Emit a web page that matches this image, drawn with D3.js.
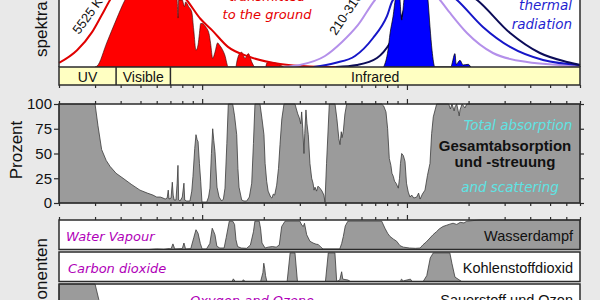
<!DOCTYPE html>
<html>
<head>
<meta charset="utf-8">
<script src="https://cdn.jsdelivr.net/npm/d3@7"></script>
<style>
  body { margin: 0; background: #e9e9e9; }
  svg { display: block; font-family: "Liberation Sans", Arial, sans-serif; }
  .it { font-family: "DejaVu Sans", Verdana, sans-serif; font-style: italic; }
</style>
</head>
<body>
<svg id="chart"></svg>
<script>
// wavelength axis, µm (log)
const xDomain = [0.2, 70];
const xTickValues = [0.2, 0.3, 0.4, 0.5, 0.6, 0.7, 0.8, 0.9, 1, 2, 3, 4, 5, 6, 7, 8, 9, 10, 20, 30, 40, 50, 60, 70];
const xMajor = [1, 10];

const bandNames = ["UV", "Visible", "Infrared"];
const bandEdges = [0.2, 0.38, 0.7, 70];

const absTicks = [0, 25, 50, 75, 100];

// top panel, spectral intensity (relative units) [µm, value]
const sun5525K = [[0.2, 0.06], [0.245, 0.25], [0.29, 0.52], [0.324, 0.78], [0.355, 1.0], [0.42, 1.3], [0.52, 1.45],
  [0.62, 1.38], [0.72, 1.2], [0.84, 1.0], [0.98, 0.72], [1.117, 0.55], [1.337, 0.3], [1.71, 0.15], [2.4, 0.045],
  [3.36, 0.008], [4.7, 0]];

const sunAtGround = [[0.3, 0], [0.307, 0.015], [0.343, 0.37], [0.38, 0.7], [0.42, 1.0], [0.5, 1.3], [0.6, 1.28],
  [0.68, 1.15], [0.745, 1.05], [0.755, 1.0], [0.762, 0.73], [0.768, 1.0], [0.8, 1.0], [0.81, 0.95], [0.82, 0.9],
  [0.83, 0.97], [0.86, 0.9], [0.89, 0.82], [0.91, 0.55], [0.933, 0.25], [0.955, 0.33], [0.97, 0.5], [0.984, 0.65],
  [1.0, 0.65], [1.04, 0.6], [1.08, 0.5], [1.1, 0.35], [1.126, 0.13], [1.155, 0.22], [1.19, 0.36], [1.22, 0.32],
  [1.246, 0.28], [1.29, 0.18], [1.342, 0], [1.46, 0], [1.475, 0.07], [1.51, 0.18], [1.56, 0.22], [1.62, 0.13],
  [1.68, 0.2], [1.75, 0.07], [1.81, 0], [2.04, 0], [2.07, 0.06], [2.16, 0.07], [2.28, 0.06], [2.4, 0.03], [2.51, 0]];

const bb310K = [[2.5, 0], [3.0, 0.03], [3.98, 0.164], [4.82, 0.373], [5.77, 0.627], [6.98, 1.0], [10, 1.35],
  [14.5, 1.0], [16.23, 0.806], [19.64, 0.507], [26.3, 0.209], [38.6, 0.075], [70, 0.015]];
const bb260K = [[3.5, 0], [4.455, 0.06], [5.58, 0.164], [6.83, 0.433], [7.99, 0.76], [8.55, 1.0], [13, 1.3],
  [17.56, 1.0], [23.5, 0.597], [31.9, 0.299], [46.2, 0.104], [70, 0.03]];
const bb210K = [[4.5, 0], [5.7, 0.03], [7.14, 0.134], [8.27, 0.358], [8.94, 0.552], [9.57, 0.806], [10.12, 1.0],
  [15, 1.3], [22.0, 1.0], [31.9, 0.507], [44.6, 0.209], [60.5, 0.075], [70, 0.03]];

const earthToSpace = [[7.7, 0], [8.08, 0.25], [8.27, 0.5], [8.55, 0.75], [8.84, 1.05], [9.17, 1.1], [9.43, 0.7],
  [9.67, 1.0], [10, 1.3], [12.25, 1.3], [12.67, 1.0], [12.96, 0.6], [13.26, 0.25], [13.7, 0], [16.4, 0],
  [16.6, 0.05], [17.16, 0.2], [17.4, 0.04], [18.16, 0.1], [18.8, 0.03], [19.9, 0.04], [20.5, 0]];

// total absorption and scattering, %
const totalAbsorption = [[0.2, 100], [0.3, 100], [0.31, 78], [0.323, 54], [0.34, 43], [0.355, 37], [0.38, 30],
  [0.411, 25], [0.45, 19], [0.497, 13], [0.54, 10], [0.575, 8], [0.6, 6], [0.625, 6], [0.644, 5], [0.66, 4],
  [0.675, 5], [0.683, 13], [0.689, 4], [0.705, 5], [0.715, 21], [0.722, 8], [0.73, 3], [0.745, 3], [0.755, 20],
  [0.762, 38], [0.768, 3], [0.78, 2], [0.8, 6], [0.815, 20], [0.822, 3], [0.84, 2], [0.872, 2], [0.89, 12],
  [0.902, 27], [0.92, 55], [0.933, 69], [0.945, 64], [0.955, 62], [0.97, 40], [0.984, 22], [0.998, 1], [1.053, 1],
  [1.075, 6], [1.092, 15], [1.11, 50], [1.126, 75], [1.14, 63], [1.155, 52], [1.182, 16], [1.21, 6], [1.246, 2],
  [1.27, 4], [1.293, 15], [1.32, 60], [1.342, 100], [1.41, 100], [1.44, 88], [1.475, 69], [1.495, 35], [1.514, 16],
  [1.56, 3], [1.6, 2], [1.65, 2], [1.7, 6], [1.746, 20], [1.78, 60], [1.811, 100], [1.916, 100], [1.96, 85],
  [2.004, 69], [2.03, 40], [2.066, 22], [2.1, 12], [2.161, 6], [2.19, 5], [2.226, 9], [2.26, 8], [2.312, 18],
  [2.36, 35], [2.4, 59], [2.45, 85], [2.51, 100], [2.84, 100], [2.93, 90], [2.982, 86], [3.03, 80], [3.062, 92],
  [3.1, 75], [3.142, 50], [3.17, 70], [3.213, 94], [3.25, 80], [3.298, 69], [3.36, 40], [3.427, 25], [3.48, 20],
  [3.52, 13], [3.557, 16], [3.62, 12], [3.68, 17], [3.762, 15], [3.85, 12], [3.93, 8], [3.979, 1], [4.05, 40],
  [4.178, 100], [4.455, 100], [4.55, 85], [4.65, 65], [4.712, 59], [4.78, 72], [4.82, 66], [4.889, 72], [4.98, 90],
  [5.08, 100], [7.528, 100], [7.7, 98], [7.901, 92], [8.05, 75], [8.2, 45], [8.35, 38], [8.45, 30], [8.578, 27],
  [8.7, 22], [8.85, 20], [9.075, 15], [9.2, 25], [9.3, 40], [9.426, 50], [9.6, 48], [9.784, 42], [9.95, 20],
  [10.15, 11], [10.35, 6], [10.55, 8], [10.8, 5], [11.16, 6], [11.4, 10], [11.6, 4], [11.9, 9], [12.25, 13],
  [12.6, 28], [12.96, 40], [13.2, 70], [13.45, 87], [13.97, 100], [16.0, 100], [16.3, 95], [16.6, 100], [17.0, 93],
  [17.16, 97], [17.5, 100], [18.0, 88], [18.16, 94], [18.6, 100], [19.2, 96], [19.6, 100], [70, 100]];

// main components, %
const waterVapour = [[0.2, 0], [0.55, 0], [0.6, 2], [0.65, 1], [0.69, 3], [0.705, 2], [0.72, 19], [0.735, 2],
  [0.8, 3], [0.815, 22], [0.83, 2], [0.88, 3], [0.91, 40], [0.933, 67], [0.955, 55], [0.98, 20], [1.0, 2],
  [1.05, 2], [1.09, 20], [1.12, 72], [1.14, 60], [1.155, 50], [1.18, 11], [1.22, 5], [1.28, 5], [1.31, 40],
  [1.357, 96], [1.41, 96], [1.44, 85], [1.463, 33], [1.49, 10], [1.55, 5], [1.65, 4], [1.72, 15], [1.78, 60],
  [1.81, 96], [1.9, 96], [1.93, 70], [1.96, 22], [2.03, 5], [2.1, 8], [2.2, 10], [2.3, 8], [2.38, 15], [2.446, 78],
  [2.54, 96], [3.0, 96], [3.07, 82], [3.12, 78], [3.16, 89], [3.24, 50], [3.36, 28], [3.48, 22], [3.6, 18],
  [3.69, 17], [3.8, 8], [3.89, 2], [4.7, 2], [4.8, 20], [4.89, 44], [5.0, 80], [5.15, 96], [7.53, 96], [7.81, 72],
  [8.05, 55], [8.27, 44], [8.6, 35], [8.91, 28], [9.25, 13], [9.6, 8], [10.3, 5], [11.0, 4], [11.6, 5], [11.98, 16],
  [12.4, 25], [12.96, 39], [13.4, 50], [13.97, 61], [14.4, 70], [15.0, 78], [15.6, 82], [16.2, 86], [16.8, 89],
  [17.5, 85], [18.2, 92], [19.0, 90], [19.6, 96], [21, 98], [23, 100], [70, 100]];

const carbonDioxide = [[0.2, 0], [1.4, 0], [1.42, 9], [1.45, 0], [1.57, 0], [1.59, 6], [1.62, 0], [1.93, 0],
  [1.98, 30], [2.0, 62], [2.02, 45], [2.04, 20], [2.07, 0], [2.6, 0], [2.69, 97], [2.84, 97], [2.92, 0], [4.0, 0],
  [4.13, 97], [4.45, 97], [4.54, 0], [4.7, 5], [4.8, 33], [4.86, 8], [5.15, 5], [5.3, 0], [9.3, 0], [9.4, 8],
  [9.6, 2], [10.4, 8], [10.6, 0], [12.0, 0], [12.5, 20], [13.0, 80], [13.45, 97], [16.2, 97], [16.6, 60],
  [17.16, 15], [18.5, 0], [70, 0]];

const oxygenOzone = [[0.2, 100], [0.3, 100], [0.313, 47], [0.32, 30], [0.34, 10], [0.4, 1], [0.5, 3], [0.6, 5],
  [0.7, 1], [0.755, 1], [0.762, 35], [0.77, 1], [4.6, 1], [4.75, 15], [4.9, 1], [9.3, 1], [9.6, 35], [10, 1],
  [70, 1]];

const componentsEn = ["Water Vapour", "Carbon dioxide", "Oxygen and Ozone"];
const componentsDe = ["Wasserdampf", "Kohlenstoffdioxid", "Sauerstoff und Ozon"];
const componentData = [waterVapour, carbonDioxide, oxygenOzone];

const W = 600;
const H = 300;
const xL = 59, xR = 580;

const svg = d3.select("#chart")
    .attr("width", W)
    .attr("height", H)
    .attr("viewBox", `0 0 ${W} ${H}`);

const x = d3.scaleLog().domain(xDomain).range([xL, xR]);
const ySpec = d3.scaleLinear().domain([0, 1]).range([67, 0]);
const yAbs = d3.scaleLinear().domain([0, 100]).range([203, 104]);

const ink = "#2b2b2b";
const grayFill = "#9b9b9b";
const magenta = "#b000b8";

function xTicks(y, up) {
    const minor = xTickValues.filter(v => !xMajor.includes(v));
    [[minor, 3], [xMajor, 5]].forEach(([vals, size]) => {
        const axis = (up ? d3.axisTop(x) : d3.axisBottom(x))
            .tickValues(vals).tickSize(size).tickSizeOuter(0).tickFormat("");
        const a = svg.append("g")
            .attr("transform", `translate(0,${y})`)
            .attr("color", ink)
            .call(axis);
        a.select(".domain").remove();
        a.selectAll("line").attr("stroke-width", 1.2);
    });
}

// Top panel: spectra

svg.append("rect")
    .attr("x", xL).attr("y", -2)
    .attr("width", xR - xL).attr("height", 69)
    .attr("fill", "white");

const specArea = d3.area()
    .x(d => x(d[0]))
    .y0(ySpec(0))
    .y1(d => ySpec(d[1]))
    .curve(d3.curveMonotoneX);

const specLine = d3.line()
    .x(d => x(d[0]))
    .y(d => ySpec(d[1]))
    .curve(d3.curveMonotoneX);

svg.append("path")
    .datum(sunAtGround)
    .attr("d", specArea)
    .attr("fill", "#ff0000")
    .attr("stroke", "#300")
    .attr("stroke-width", 0.6);

svg.append("path")
    .datum(sun5525K)
    .attr("d", specLine)
    .attr("fill", "none")
    .attr("stroke", "#e00000")
    .attr("stroke-width", 2);

[[bb310K, "#b490ea"], [bb260K, "#1616c8"], [bb210K, "#0c0c58"]].forEach(([d, c]) => {
    svg.append("path")
        .datum(d)
        .attr("d", specLine)
        .attr("fill", "none")
        .attr("stroke", c)
        .attr("stroke-width", 2);
});

svg.append("path")
    .datum(earthToSpace)
    .attr("d", specArea)
    .attr("fill", "#0000ff")
    .attr("stroke", "#000")
    .attr("stroke-width", 0.7);

svg.append("text")
    .attr("transform", "translate(79,35) rotate(-54)")
    .attr("font-size", 13)
    .attr("fill", "#111")
    .text("5525 K");

svg.append("text")
    .attr("transform", "translate(336,36) rotate(-56)")
    .attr("font-size", 13)
    .attr("fill", "#111")
    .text("210-310 K");

[["transmitted", 1], ["to the ground", 19]].forEach(([t, y]) => {
    svg.append("text")
        .attr("class", "it")
        .attr("x", 267).attr("y", y)
        .attr("text-anchor", "middle")
        .attr("font-size", 13)
        .attr("fill", "#e60000")
        .text(t);
});

[["thermal", 10], ["radiation", 29]].forEach(([t, y]) => {
    svg.append("text")
        .attr("class", "it")
        .attr("x", 572).attr("y", y)
        .attr("text-anchor", "end")
        .attr("font-size", 13.5)
        .attr("fill", "#1f1fd0")
        .text(t);
});

// panel side borders
[xL, xR].forEach(px => {
    svg.append("line")
        .attr("x1", px).attr("x2", px)
        .attr("y1", -2).attr("y2", 67)
        .attr("stroke", ink).attr("stroke-width", 1.5);
});

// Bands

svg.append("rect")
    .attr("x", xL).attr("y", 67)
    .attr("width", xR - xL).attr("height", 18)
    .attr("fill", "#ffffc2")
    .attr("stroke", ink).attr("stroke-width", 1.5);

bandEdges.slice(1, -1).forEach(v => {
    svg.append("line")
        .attr("x1", x(v)).attr("x2", x(v))
        .attr("y1", 67).attr("y2", 85)
        .attr("stroke", ink).attr("stroke-width", 1.5);
});

bandNames.forEach((name, i) => {
    svg.append("text")
        .attr("x", (x(bandEdges[i]) + x(bandEdges[i + 1])) / 2)
        .attr("y", 81.5)
        .attr("text-anchor", "middle")
        .attr("font-size", 14)
        .attr("fill", "#111")
        .text(name);
});

xTicks(85, false);

// Left labels

svg.append("text")
    .attr("transform", "translate(47,57) rotate(-90)")
    .attr("font-size", 17)
    .attr("fill", "#111")
    .text("spektrale Intensität");

svg.append("text")
    .attr("transform", "translate(22,150) rotate(-90)")
    .attr("text-anchor", "middle")
    .attr("font-size", 17)
    .attr("fill", "#111")
    .text("Prozent");

svg.append("text")
    .attr("transform", "translate(46.5,238) rotate(-90)")
    .attr("text-anchor", "end")
    .attr("font-size", 17)
    .attr("fill", "#111")
    .text("Hauptkomponenten");

// Total absorption panel

svg.append("rect")
    .attr("x", xL).attr("y", yAbs(100))
    .attr("width", xR - xL).attr("height", yAbs(0) - yAbs(100))
    .attr("fill", "white");

svg.append("path")
    .datum(totalAbsorption)
    .attr("d", d3.area()
        .x(d => x(d[0]))
        .y0(yAbs(0))
        .y1(d => yAbs(d[1])))
    .attr("fill", grayFill)
    .attr("stroke", "#3a3a3a")
    .attr("stroke-width", 0.8);

svg.append("rect")
    .attr("x", xL).attr("y", yAbs(100))
    .attr("width", xR - xL).attr("height", yAbs(0) - yAbs(100))
    .attr("fill", "none")
    .attr("stroke", ink).attr("stroke-width", 1.5);

const yAxisL = svg.append("g")
    .attr("transform", `translate(${xL},0)`)
    .attr("color", ink)
    .call(d3.axisLeft(yAbs).tickValues(absTicks).tickSize(5).tickPadding(2));
yAxisL
    .attr("font-size", 15)
    .attr("font-family", "Liberation Sans, Arial, sans-serif");
yAxisL.select(".domain").remove();
yAxisL.selectAll("line").attr("stroke-width", 1.2);
yAxisL.selectAll("text").attr("fill", "#111");

const yAxisR = svg.append("g")
    .attr("transform", `translate(${xR},0)`)
    .attr("color", ink)
    .call(d3.axisRight(yAbs).tickValues(absTicks).tickSize(4).tickFormat(""));
yAxisR.select(".domain").remove();
yAxisR.selectAll("line").attr("stroke-width", 1.2);

xTicks(yAbs(100), true);
xTicks(yAbs(0), false);

svg.append("text").attr("class", "it")
    .attr("x", 518).attr("y", 130)
    .attr("text-anchor", "middle")
    .attr("font-size", 13.5)
    .attr("fill", "#5fe3e3")
    .text("Total absorption");

svg.append("text")
    .attr("x", 505).attr("y", 151)
    .attr("text-anchor", "middle")
    .attr("font-size", 15)
    .attr("font-weight", "bold")
    .attr("fill", "#111")
    .text("Gesamtabsorption");

svg.append("text")
    .attr("x", 505).attr("y", 166.5)
    .attr("text-anchor", "middle")
    .attr("font-size", 15)
    .attr("font-weight", "bold")
    .attr("fill", "#111")
    .text("und -streuung");

svg.append("text").attr("class", "it")
    .attr("x", 510).attr("y", 192)
    .attr("text-anchor", "middle")
    .attr("font-size", 13.5)
    .attr("fill", "#5fe3e3")
    .text("and scattering");

// Component panels

const compTops = [220, 252, 284];
const compH = 29.5;
const enX = [66, 68, 190];

componentData.forEach((data, i) => {
    const top = compTops[i];
    const y = d3.scaleLinear().domain([0, 100]).range([top + compH, top]);

    svg.append("rect")
        .attr("x", xL).attr("y", top)
        .attr("width", xR - xL).attr("height", compH)
        .attr("fill", "white");

    svg.append("path")
        .datum(data)
        .attr("d", d3.area()
            .x(d => x(d[0]))
            .y0(y(0))
            .y1(d => y(d[1])))
        .attr("fill", grayFill)
        .attr("stroke", "#3a3a3a")
        .attr("stroke-width", 0.8);

    svg.append("rect")
        .attr("x", xL).attr("y", top)
        .attr("width", xR - xL).attr("height", compH)
        .attr("fill", "none")
        .attr("stroke", ink).attr("stroke-width", 1.5);

    svg.append("text").attr("class", "it")
        .attr("x", enX[i]).attr("y", top + 21)
        .attr("font-size", 13)
        .attr("fill", magenta)
        .text(componentsEn[i]);

    svg.append("text")
        .attr("x", 573).attr("y", top + 20.5)
        .attr("text-anchor", "end")
        .attr("font-size", 14.5)
        .attr("fill", "#111")
        .text(componentsDe[i]);
});

xTicks(compTops[0], true);
</script>
</body>
</html>
